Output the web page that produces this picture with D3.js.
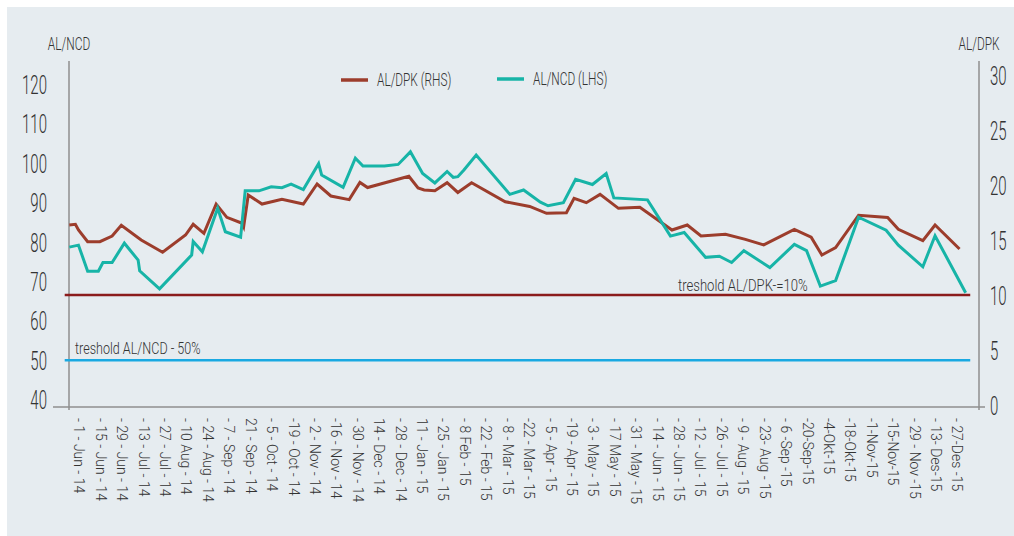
<!DOCTYPE html>
<html>
<head>
<meta charset="utf-8">
<script src="https://cdn.jsdelivr.net/npm/d3@7"></script>
<style>
  body { margin:0; background:#fff; }
  svg text { font-family: Roboto, "Liberation Sans", sans-serif; font-weight:300; fill:#333; }
</style>
</head>
<body>
<svg class="chart"></svg>
<script>
// AL/NCD (LHS) - teal line
var ncdDates = ["2014-05-25","2014-05-31","2014-06-06","2014-06-13","2014-06-16","2014-06-22","2014-06-30",
  "2014-07-09","2014-07-10","2014-07-23","2014-08-13","2014-08-14","2014-08-20","2014-08-30","2014-09-04",
  "2014-09-14","2014-09-17","2014-09-26","2014-10-04","2014-10-11","2014-10-17","2014-10-25","2014-11-04",
  "2014-11-06","2014-11-20","2014-11-28","2014-12-03","2014-12-17","2014-12-26","2015-01-03","2015-01-11",
  "2015-01-19","2015-01-27","2015-01-31","2015-02-03","2015-02-07","2015-02-15","2015-03-09","2015-03-18",
  "2015-03-29","2015-04-03","2015-04-13","2015-04-21","2015-05-02","2015-05-11","2015-05-16","2015-06-07",
  "2015-06-22","2015-07-01","2015-07-15","2015-07-24","2015-08-01","2015-08-09","2015-08-26","2015-09-11",
  "2015-09-19","2015-09-28","2015-10-08","2015-10-23","2015-11-10","2015-11-18","2015-12-04","2015-12-12",
  "2016-01-01"];
var ncdValues = [78.7,79.2,72.6,72.6,74.8,74.8,79.7,
  75.4,72.7,68.1,76.7,80.1,77.5,88.6,82.6,
  81.2,93.0,93.0,94.0,93.8,94.7,93.3,99.9,
  97.0,93.9,101.3,99.3,99.3,99.7,102.9,97.4,
  95.0,97.9,96.4,96.6,98.3,102.1,92.1,93.2,
  90.1,89.2,90.0,95.9,94.6,97.4,91.2,90.7,
  81.5,82.4,76.1,76.4,74.8,77.8,73.5,79.4,
  77.8,68.8,70.2,86.3,83.0,79.2,73.7,81.6,
  67.1];

// AL/DPK (RHS) - red line
var dpkDates = ["2014-05-25","2014-05-29","2014-05-31","2014-06-06","2014-06-14","2014-06-22","2014-06-28",
  "2014-07-11","2014-07-25","2014-08-09","2014-08-14","2014-08-21","2014-08-29","2014-09-05","2014-09-15",
  "2014-09-16","2014-09-19","2014-09-28","2014-10-11","2014-10-25","2014-11-03","2014-11-12","2014-11-24",
  "2014-12-01","2014-12-06","2015-01-02","2015-01-08","2015-01-12","2015-01-19","2015-01-27","2015-02-03",
  "2015-02-12","2015-03-06","2015-03-22","2015-04-02","2015-04-15","2015-04-20","2015-04-28","2015-05-07",
  "2015-05-19","2015-06-02","2015-06-23","2015-07-03","2015-07-12","2015-07-28","2015-08-10","2015-08-22",
  "2015-09-11","2015-09-22","2015-09-29","2015-10-08","2015-10-23","2015-11-11","2015-11-18","2015-12-04",
  "2015-12-12","2015-12-28"];
var dpkValues = [16.36,16.43,15.91,14.85,14.85,15.36,16.34,
  15.0,13.88,15.45,16.43,15.61,18.27,17.06,16.52,
  16.21,19.09,18.27,18.70,18.27,20.09,19.0,18.67,
  20.23,19.77,20.79,19.73,19.55,19.48,20.21,19.32,
  20.21,18.48,18.05,17.43,17.48,18.79,18.39,19.15,
  17.88,17.97,15.91,16.36,15.36,15.52,15.06,14.55,
  15.97,15.25,13.64,14.30,17.25,17.05,15.97,14.94,
  16.36,14.18];

var tickDates = ["2014-06-01","2014-06-15","2014-06-29","2014-07-13","2014-07-27","2014-08-10","2014-08-24",
  "2014-09-07","2014-09-21","2014-10-05","2014-10-19","2014-11-02","2014-11-16","2014-11-30","2014-12-14",
  "2014-12-28","2015-01-11","2015-01-25","2015-02-08","2015-02-22","2015-03-08","2015-03-22","2015-04-05",
  "2015-04-19","2015-05-03","2015-05-17","2015-05-31","2015-06-14","2015-06-28","2015-07-12","2015-07-26",
  "2015-08-09","2015-08-23","2015-09-06","2015-09-20","2015-10-04","2015-10-18","2015-11-01","2015-11-15",
  "2015-11-29","2015-12-13","2015-12-27"];
var tickLabels = ["- 1 - Jun - 14","- 15 - Jun - 14","- 29 - Jun - 14","- 13 - Jul - 14","- 27 - Jul - 14",
  "- 10 Aug - 14","- 24 - Aug - 14","- 7 - Sep - 14","21 - Sep - 14","- 5 - Oct - 14","-19 - Oct - 14",
  "- 2 - Nov - 14","-16 - Nov - 14","- 30 - Nov - 14","14 - Dec - 14","- 28 - Dec - 14","11 - Jan - 15",
  "- 25 - Jan - 15","- 8 Feb - 15","- 22 - Feb - 15","- 8 - Mar - 15","-22 - Mar - 15","- 5 - Apr - 15",
  "-19 - Apr - 15","- 3 - May - 15","- 17 May - 15","- 31 - May - 15","- 14 - Jun - 15","- 28 - Jun - 15",
  "- 12 - Jul - 15","- 26 - Jul - 15","- 9 - Aug - 15","- 23- Aug - 15","- 6 -Sep -15","-20-Sep-15",
  "-4-Okt-15","-18-Okt-15","-1-Nov-15","-15-Nov-15","- 29 - Nov -15","- 13- Des-15","- 27-Des -15"];

var leftTicks = [40,50,60,70,80,90,100,110,120];
var rightTicks = [0,5,10,15,20,25,30];

var thresholdDates = ["2014-05-22","2016-01-04"];
var ncdThreshold = 50;
var dpkThreshold = 10;

var parse = d3.utcParse("%Y-%m-%d");

var svgwidth = 1014, svgheight = 536;
var axisLeftX = 69, axisRightX = 979, axisTop = 61, axisBottom = 407;
var sqTick = 0.6; // squeeze roboto light into a condensed look

var svg = d3.select('.chart')
            .attr('width', svgwidth)
            .attr('height', svgheight);

svg.append('rect')
   .attr('x', 7).attr('y', 7)
   .attr('width', svgwidth - 7).attr('height', svgheight - 7)
   .attr('fill', '#e6ecf0');

var xScale = d3.scaleUtc()
               .domain([parse("2014-06-01"), parse("2015-12-27")])
               .range([80, 958]);

var yLeft = d3.scaleLinear().domain([40,120]).range([399.5,84.5]);
var yRight = d3.scaleLinear().domain([0,30]).range([405,75]);

// axis frame lines
var axisColor = '#8f8f8f';
svg.append('line').attr('x1', axisLeftX).attr('x2', axisLeftX)
   .attr('y1', axisTop).attr('y2', axisBottom + 3)
   .attr('stroke', axisColor).attr('stroke-width', 1.5);
svg.append('line').attr('x1', axisRightX).attr('x2', axisRightX)
   .attr('y1', axisTop).attr('y2', axisBottom + 3)
   .attr('stroke', axisColor).attr('stroke-width', 1.5);
svg.append('line').attr('x1', 53).attr('x2', 985)
   .attr('y1', axisBottom).attr('y2', axisBottom)
   .attr('stroke', axisColor).attr('stroke-width', 1.5);

// y axes (labels only)
var gL = svg.append('g')
            .attr('transform', 'translate(' + axisLeftX + ',0)')
            .call(d3.axisLeft(yLeft).tickValues(leftTicks).tickSize(0).tickPadding(0));
gL.select('.domain').remove();
gL.selectAll('text')
  .attr('x', -22 / sqTick).attr('dy', '0.36em')
  .attr('transform', 'scale(' + sqTick + ',1)')
  .attr('fill', '#333')
  .style('font-size', '25px');

var gR = svg.append('g')
            .attr('transform', 'translate(' + axisRightX + ',0)')
            .call(d3.axisRight(yRight).tickValues(rightTicks).tickSize(0).tickPadding(0));
gR.select('.domain').remove();
gR.selectAll('text')
  .attr('x', 11 / sqTick).attr('dy', '0.36em')
  .attr('transform', 'scale(' + sqTick + ',1)')
  .attr('fill', '#333')
  .style('font-size', '25px');

// axis titles
svg.append('text')
   .attr('transform', 'translate(' + axisLeftX + ',50) scale(0.66,1)')
   .attr('text-anchor', 'middle').style('font-size', '18px')
   .text('AL/NCD');
svg.append('text')
   .attr('transform', 'translate(' + axisRightX + ',50) scale(0.66,1)')
   .attr('text-anchor', 'middle').style('font-size', '18px')
   .text('AL/DPK');

// x labels, rotated
svg.append('g').selectAll('text')
   .data(tickDates).enter()
   .append('text')
   .attr('transform', function(d){
     return 'translate(' + xScale(parse(d)) + ',418) rotate(90) scale(0.9,1)';
   })
   .attr('dy', '0.36em')
   .style('font-size', '15.5px')
   .text(function(d,i){ return tickLabels[i]; });

// threshold lines
var tStart = parse(thresholdDates[0]), tEnd = parse(thresholdDates[1]);
svg.append('line')
   .attr('x1', xScale(tStart)).attr('x2', xScale(tEnd))
   .attr('y1', yRight(dpkThreshold)).attr('y2', yRight(dpkThreshold))
   .attr('stroke', '#8b1c1c').attr('stroke-width', 2.5);
svg.append('line')
   .attr('x1', xScale(tStart)).attr('x2', xScale(tEnd))
   .attr('y1', yLeft(ncdThreshold)).attr('y2', yLeft(ncdThreshold))
   .attr('stroke', '#19a9e2').attr('stroke-width', 2.5);

svg.append('text')
   .attr('transform', 'translate(678,' + (yRight(dpkThreshold) - 4) + ') scale(0.77,1)')
   .style('font-size', '17px')
   .text('treshold AL/DPK-=10%');
svg.append('text')
   .attr('transform', 'translate(75,' + (yLeft(ncdThreshold) - 6) + ') scale(0.74,1)')
   .style('font-size', '17px')
   .text('treshold AL/NCD - 50%');

// data lines
var ncd = ncdDates.map(function(d,i){ return {date: parse(d), value: ncdValues[i]}; });
var dpk = dpkDates.map(function(d,i){ return {date: parse(d), value: dpkValues[i]}; });

var ncdLine = d3.line()
                .x(function(d){ return xScale(d.date); })
                .y(function(d){ return yLeft(d.value); });
var dpkLine = d3.line()
                .x(function(d){ return xScale(d.date); })
                .y(function(d){ return yRight(d.value); });

svg.append('path').datum(dpk)
   .attr('d', dpkLine)
   .attr('fill', 'none').attr('stroke', '#9c3d2c')
   .attr('stroke-width', 3).attr('stroke-linejoin', 'miter');
svg.append('path').datum(ncd)
   .attr('d', ncdLine)
   .attr('fill', 'none').attr('stroke', '#17b4a7')
   .attr('stroke-width', 3).attr('stroke-linejoin', 'miter');

// legend
var legend = [
  {name: 'AL/DPK (RHS)', color: '#9c3d2c', x: 341, y: 80},
  {name: 'AL/NCD (LHS)', color: '#17b4a7', x: 497, y: 79}
];
var lg = svg.append('g').selectAll('g').data(legend).enter().append('g')
            .attr('transform', function(d){ return 'translate(' + d.x + ',' + d.y + ')'; });
lg.append('line').attr('x1', 0).attr('x2', 27).attr('y1', 0).attr('y2', 0)
  .attr('stroke', function(d){ return d.color; }).attr('stroke-width', 3.5);
lg.append('text')
  .attr('transform', 'translate(36,0) scale(0.64,1)')
  .attr('dy', '0.35em')
  .style('font-size', '18.5px')
  .text(function(d){ return d.name; });
</script>
</body>
</html>
